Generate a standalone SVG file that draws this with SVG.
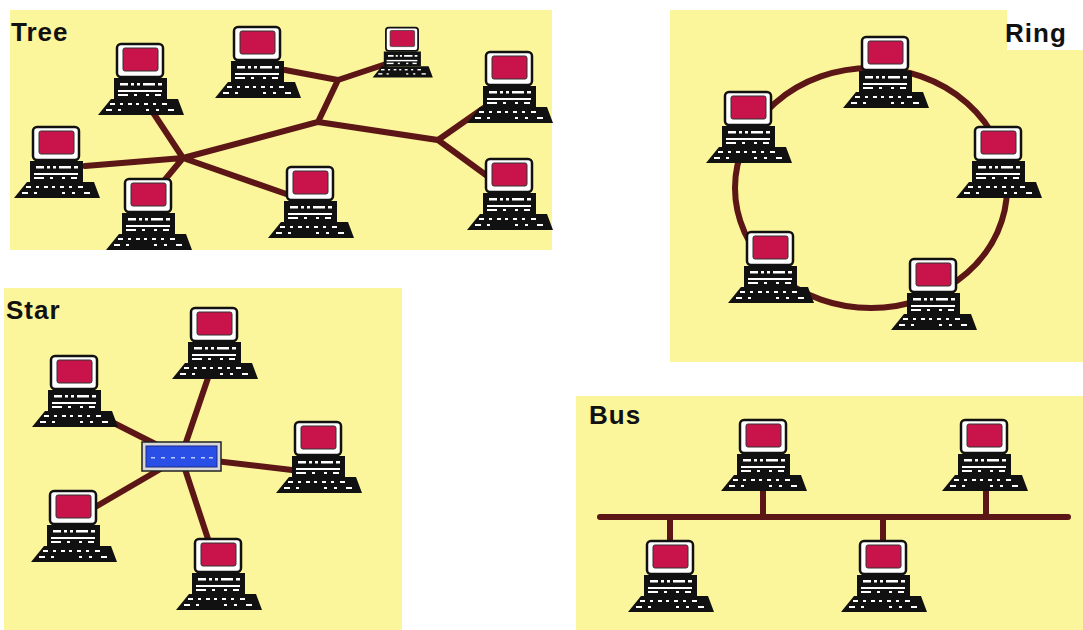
<svg xmlns="http://www.w3.org/2000/svg" xmlns:xlink="http://www.w3.org/1999/xlink" width="1083" height="630" viewBox="0 0 1083 630">
  <style>
    .panel { fill: #fbf59c; }
    .label { font-family: "Liberation Sans", Arial, sans-serif; font-weight: bold; font-size: 26px; letter-spacing: 1px; fill: #111; }
    .wire { stroke: #5c1616; stroke-width: 6; stroke-linecap: round; fill: none; }
  </style>
  <defs>
    <!-- desktop computer: origin at top centre of the monitor -->
    <g id="pc">
      <path d="M-29 56 L38 56 L44 72 L-42 72 Z" fill="#111"/>
      <g fill="#fff">
        <rect x="-30" y="60" width="5" height="2"/><rect x="-20" y="60" width="3" height="2"/><rect x="-12" y="60" width="4" height="2"/>
        <rect x="-4" y="60" width="3" height="2"/><rect x="4" y="60" width="4" height="2"/><rect x="13" y="60" width="3" height="2"/>
        <rect x="22" y="60" width="5" height="2"/><rect x="-34" y="66" width="6" height="2"/><rect x="-22" y="66" width="3" height="2"/>
        <rect x="6" y="66" width="3" height="2"/><rect x="16" y="66" width="3" height="2"/><rect x="28" y="66" width="6" height="2"/>
      </g>
      <rect x="-26" y="35" width="53" height="21" fill="#111"/>
      <g fill="#fff">
        <rect x="-20" y="40" width="8" height="2.5"/><rect x="-9" y="40" width="3" height="2.5"/><rect x="-3" y="40" width="3" height="2.5"/>
        <rect x="3" y="40" width="12" height="2.5"/><rect x="18" y="40" width="4" height="2.5"/>
        <rect x="-22" y="47" width="44" height="2"/>
        <rect x="-22" y="51" width="10" height="2"/><rect x="-6" y="51" width="3" height="2"/><rect x="6" y="51" width="3" height="2"/><rect x="15" y="51" width="6" height="2"/>
      </g>
      <rect x="-23" y="1" width="46" height="33" rx="4" fill="#fff" stroke="#111" stroke-width="2.5"/>
      <rect x="-17" y="5" width="35" height="23" rx="2" fill="#c8144b" stroke="#333" stroke-width="1"/>
    </g>
  </defs>

  <rect width="1083" height="630" fill="#fff"/>

  <!-- panels -->
  <rect class="panel" x="10" y="10" width="542" height="240"/>
  <rect class="panel" x="670" y="10" width="413" height="352"/>
  <rect x="1007" y="10" width="76" height="40" fill="#fff"/>
  <rect class="panel" x="4" y="288" width="398" height="342"/>
  <rect class="panel" x="576" y="396" width="507" height="234"/>

  <!-- connectors -->
  <g id="connectors">
    <!-- tree -->
    <path class="wire" d="M183 158 L150 108 M183 158 L85 166 M183 158 L163 182 M183 158 L292 196 M183 158 L318 122 L338 80 L285 70 M338 80 L392 62 M318 122 L438 140 L488 105 M438 140 L490 178"/>
    <!-- ring -->
    <ellipse class="wire" cx="871" cy="188" rx="136" ry="120" stroke-width="4"/>
    <!-- star -->
    <path class="wire" d="M181 457 L210 372 M181 457 L92 412 M181 457 L292 470 M181 457 L90 510 M181 457 L210 545"/>
    <!-- bus -->
    <path class="wire" d="M600 517 L1068 517" stroke-linecap="butt"/>
    <path class="wire" d="M763 490 L763 517 M986 487 L986 517 M670 517 L670 542 M883 517 L883 542" stroke-linecap="butt"/>
  </g>

  <!-- tree nodes -->
  <g id="tree">
    <text class="label" x="11" y="41">Tree</text>
    <use id="tree-pc1" xlink:href="#pc" transform="translate(140 43)"/>
    <use id="tree-pc2" xlink:href="#pc" transform="translate(257 26)"/>
    <use id="tree-pc3" xlink:href="#pc" transform="translate(402 27) scale(0.7)"/>
    <use id="tree-pc4" xlink:href="#pc" transform="translate(509 51)"/>
    <use id="tree-pc5" xlink:href="#pc" transform="translate(56 126)"/>
    <use id="tree-pc6" xlink:href="#pc" transform="translate(148 178)"/>
    <use id="tree-pc7" xlink:href="#pc" transform="translate(310 166)"/>
    <use id="tree-pc8" xlink:href="#pc" transform="translate(509 158)"/>
  </g>

  <!-- ring nodes -->
  <g id="ring">
    <text class="label" x="1005" y="42">Ring</text>
    <use id="ring-pc1" xlink:href="#pc" transform="translate(885 36)"/>
    <use id="ring-pc2" xlink:href="#pc" transform="translate(748 91)"/>
    <use id="ring-pc3" xlink:href="#pc" transform="translate(998 126)"/>
    <use id="ring-pc4" xlink:href="#pc" transform="translate(770 231)"/>
    <use id="ring-pc5" xlink:href="#pc" transform="translate(933 258)"/>
  </g>

  <!-- star nodes -->
  <g id="star">
    <text class="label" x="6" y="319">Star</text>
    <g id="star-hub">
      <rect x="142" y="442" width="79" height="29" fill="#d8d8d8" stroke="#222" stroke-width="1.5"/>
      <rect x="146" y="446" width="71" height="21" fill="#2a4fe6" stroke="#1a2a80" stroke-width="1"/>
      <g fill="#c0ccff">
        <rect x="151" y="457" width="4" height="1.5"/><rect x="161" y="457" width="4" height="1.5"/><rect x="171" y="457" width="4" height="1.5"/>
        <rect x="181" y="457" width="4" height="1.5"/><rect x="191" y="457" width="4" height="1.5"/><rect x="201" y="457" width="4" height="1.5"/>
        <rect x="209" y="457" width="4" height="1.5"/>
      </g>
    </g>
    <use id="star-pc1" xlink:href="#pc" transform="translate(214 307)"/>
    <use id="star-pc2" xlink:href="#pc" transform="translate(74 355)"/>
    <use id="star-pc3" xlink:href="#pc" transform="translate(318 421)"/>
    <use id="star-pc4" xlink:href="#pc" transform="translate(73 490)"/>
    <use id="star-pc5" xlink:href="#pc" transform="translate(218 538)"/>
  </g>

  <!-- bus nodes -->
  <g id="bus">
    <text class="label" x="589" y="424">Bus</text>
    <use id="bus-pc1" xlink:href="#pc" transform="translate(763 419)"/>
    <use id="bus-pc2" xlink:href="#pc" transform="translate(984 419)"/>
    <use id="bus-pc3" xlink:href="#pc" transform="translate(670 540)"/>
    <use id="bus-pc4" xlink:href="#pc" transform="translate(883 540)"/>
  </g>
</svg>
